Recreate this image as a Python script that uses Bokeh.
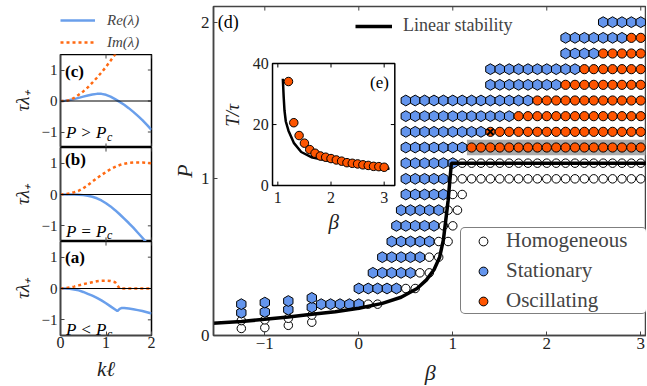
import numpy as np
from bokeh.plotting import figure
from bokeh.layouts import row, column
from bokeh.models import Range1d, LinearAxis, FixedTicker, Legend, LegendItem, Label, Span
from bokeh.embed import file_html
from bokeh.resources import INLINE
from bokeh.core.properties import value

SERIF = "Liberation Serif"
BLUE = "#6495ED"
ORANGE = "#FF5500"
RE_BLUE = "#6A9FEB"
IM_ORANGE = "#FF6A13"
FRAME = "#444444"
TXT = "#222222"

# ---------------- small panels (a), (b), (c) ----------------
k_c = [0.0, 0.1, 0.2, 0.3, 0.4, 0.5, 0.6, 0.7, 0.8, 0.9, 1.0, 1.1, 1.2, 1.3, 1.4, 1.5, 1.6, 1.7, 1.8, 1.9, 2.0]
re_c = [0, 0.01, 0.03, 0.06, 0.1, 0.14, 0.18, 0.21, 0.23, 0.23, 0.2, 0.14, 0.06, -0.03, -0.12, -0.23, -0.35, -0.48, -0.62, -0.77, -0.93]
k_c_im = [0.0, 0.1, 0.2, 0.3, 0.4, 0.5, 0.6, 0.7, 0.8, 0.9, 1.0, 1.1, 1.2, 1.3]
im_c = [0, 0.0, 0.03, 0.1, 0.2, 0.31, 0.44, 0.59, 0.75, 0.92, 1.1, 1.3, 1.5, 1.7]

k_b = [0.0, 0.1, 0.2, 0.3, 0.4, 0.5, 0.6, 0.7, 0.8, 0.9, 1.0, 1.1, 1.2, 1.3, 1.4, 1.5, 1.6, 1.7, 1.8, 1.9, 2.0]
re_b = [0, 0, 0, 0, -0.01, -0.02, -0.04, -0.07, -0.12, -0.19, -0.28, -0.38, -0.5, -0.63, -0.77, -0.91, -1.06, -1.22, -1.38, -1.55, -1.72]
im_b = [0, 0.01, 0.03, 0.07, 0.12, 0.2, 0.3, 0.41, 0.52, 0.62, 0.72, 0.81, 0.88, 0.94, 0.98, 1.01, 1.02, 1.02, 1.02, 1.01, 1.0]

k_a = [0.0, 0.1, 0.2, 0.3, 0.4, 0.5, 0.6, 0.7, 0.8, 0.9, 1.0, 1.1, 1.2, 1.25, 1.3, 1.35, 1.4, 1.5, 1.6, 1.7, 1.8, 1.9, 2.0]
re_a = [0, 0, -0.01, -0.03, -0.06, -0.11, -0.17, -0.23, -0.3, -0.38, -0.47, -0.57, -0.67, -0.72, -0.65, -0.62, -0.62, -0.64, -0.66, -0.69, -0.72, -0.76, -0.8]
im_a = [0, 0.01, 0.03, 0.06, 0.1, 0.14, 0.17, 0.2, 0.23, 0.245, 0.25, 0.24, 0.2, 0.1, 0.0, 0, 0, 0, 0, 0, 0, 0, 0]

k_ticks = [0, 1, 2]
lam_ticks = [-1, 0, 1]
lam_labels = {-1: "\u22121", 0: "0", 1: "1"}
K_RANGE = (0, 2)
LAM_RANGE = (-1.5, 1.5)

# ---------------- main panel (d) ----------------
STEP = 0.1
# rows: (P, first beta, last beta)
stationary_rows = [
    (2.0, 2.6, 3.0), (1.9, 2.2, 2.8), (1.8, 2.2, 2.5), (1.7, 1.4, 2.3), (1.6, 1.4, 2.1),
    (1.5, 0.5, 1.8), (1.4, 0.5, 1.6), (1.3, 0.5, 1.3), (1.2, 0.5, 1.1), (1.1, 0.5, 1.0),
    (1.0, 0.5, 0.9), (0.9, 0.5, 0.9), (0.8, 0.45, 0.85), (0.7, 0.4, 0.8), (0.6, 0.35, 0.75),
    (0.5, 0.25, 0.65), (0.4, 0.15, 0.55), (0.3, 0.0, 0.4), (0.2, -0.4, 0.0),
]
oscillating_rows = [
    (1.9, 2.9, 3.0), (1.8, 2.6, 3.0), (1.7, 2.4, 3.0), (1.6, 2.2, 3.0),
    (1.5, 1.9, 3.0), (1.4, 1.7, 3.0), (1.3, 1.4, 3.0), (1.2, 1.2, 3.0),
]
homogeneous_rows = [
    (1.1, 1.1, 3.0), (1.0, 1.0, 3.0), (0.9, 1.0, 1.1), (0.8, 0.95, 1.05), (0.7, 0.9, 1.0),
    (0.6, 0.85, 0.95), (0.5, 0.75, 0.85), (0.4, 0.65, 0.75), (0.3, 0.5, 0.6), (0.2, 0.1, 0.2),
]
stack_beta = [-1.25, -1.0, -0.75, -0.5]
stack_hom_P = [[0.045, 0.095], [0.05, 0.1], [0.065, 0.11], [0.085, 0.13]]
stack_sta_P = [[0.145, 0.2], [0.15, 0.21], [0.165, 0.22], [0.18, 0.24]]
crossed_beta = [1.4]
crossed_P = [1.3]
band_beta = (1.15, 3.05)
band_P = (1.15, 1.25)

stab_beta = [-1.6, -1.25, -1.0, -0.75, -0.5, -0.25, 0.0, 0.25, 0.45, 0.62, 0.72, 0.8, 0.86, 0.9, 0.95, 0.985, 3.1]
stab_P = [0.076, 0.09, 0.103, 0.118, 0.135, 0.152, 0.174, 0.205, 0.244, 0.30, 0.355, 0.42, 0.50, 0.61, 0.86, 1.1, 1.1]

beta_ticks = [-1, 0, 1, 2, 3]
beta_labels = {-1: "\u22121", 0: "0", 1: "1", 2: "2", 3: "3"}
P_ticks = [0, 1, 2]
BETA_RANGE = (-1.546, 3.061)
P_RANGE = (0, 2.1)

# ---------------- inset (e) ----------------
ins_beta = [1.2, 1.3, 1.4, 1.5, 1.6, 1.7, 1.8, 1.9, 2.0, 2.1, 2.2, 2.3, 2.4, 2.5, 2.6, 2.7, 2.8, 2.9, 3.0]
ins_T = [34.1, 20.6, 16.4, 13.9, 11.8, 10.6, 9.7, 9.3, 8.85, 8.4, 8.0, 7.5, 7.3, 7.1, 6.8, 6.6, 6.3, 6.2, 6.0]
ins_curve_beta = [1.094, 1.11, 1.125, 1.15, 1.2, 1.3, 1.44, 1.63, 2.0, 2.5, 3.1]
ins_curve_T = [35.0, 29.0, 24.6, 21.0, 18.0, 14.0, 11.0, 9.3, 8.0, 6.6, 5.5]
ins_xticks = [1, 2, 3]
ins_yticks = [0, 20, 40]
ins_xrange = (0.9, 3.2)
ins_yrange = (0, 40)


def expand(rows):
    xs, ys = [], []
    for P, b0, b1 in rows:
        n = int(round((b1 - b0) / STEP)) + 1
        for i in range(n):
            xs.append(round(b0 + STEP * i, 3))
            ys.append(P)
    return xs, ys


def style_axis(ax, size="16px", standoff=3):
    ax.axis_line_color = FRAME
    ax.axis_line_width = 1.5
    ax.major_tick_in = 4
    ax.major_tick_out = 0
    ax.major_tick_line_color = FRAME
    ax.major_tick_line_width = 1
    ax.minor_tick_line_color = None
    ax.major_label_text_font = SERIF
    ax.major_label_text_color = TXT
    ax.major_label_text_font_size = size
    ax.major_label_standoff = standoff
    ax.axis_label_text_font = SERIF
    ax.axis_label_text_font_style = "italic"
    ax.axis_label_text_color = TXT
    return ax


def bare_fig(width, height, xr, yr, left=0, top=0, right=0):
    f = figure(width=width, height=height, x_range=xr, y_range=yr,
               x_axis_location=None, y_axis_location=None, toolbar_location=None,
               output_backend="svg", min_border_left=left, min_border_right=right,
               min_border_top=top, min_border_bottom=0)
    f.grid.visible = False
    f.outline_line_color = None
    return f


def small_panel(height, k_re, re, k_im, im, tag, tag_y, rel, rel_y, bottom):
    p = figure(width=168, height=height, x_range=Range1d(*K_RANGE), y_range=Range1d(*LAM_RANGE),
               x_axis_location=None, y_axis_location=None, toolbar_location=None,
               output_backend="svg", min_border_left=55, min_border_right=17,
               min_border_top=0, min_border_bottom=20 if bottom else 0)
    p.grid.visible = False
    p.outline_line_color = "black"
    p.outline_line_width = 1.5
    la = LinearAxis(ticker=FixedTicker(ticks=lam_ticks), major_label_overrides=lam_labels,
                    axis_label="\u03c4\u03bb\u208a")
    style_axis(la, "15px", 3)
    la.axis_label_text_font_size = "19px"
    la.axis_label_standoff = 6
    p.add_layout(la, "left")
    if bottom:
        ba = LinearAxis(ticker=FixedTicker(ticks=k_ticks))
        style_axis(ba, "16px", 1)
        p.add_layout(ba, "below")
    # inward ticks on the remaining sides
    nk, nl = len(k_ticks), len(lam_ticks)
    p.segment(x0=[K_RANGE[1]] * nl, y0=lam_ticks, x1=[K_RANGE[1] - 0.08] * nl, y1=lam_ticks, line_color=FRAME)
    p.segment(x0=k_ticks, y0=[LAM_RANGE[1]] * nk, x1=k_ticks, y1=[LAM_RANGE[1] - 0.13] * nk, line_color=FRAME)
    if not bottom:
        p.segment(x0=k_ticks, y0=[LAM_RANGE[0]] * nk, x1=k_ticks, y1=[LAM_RANGE[0] + 0.13] * nk, line_color=FRAME)
    p.add_layout(Span(location=0, dimension="width", line_color="black", line_width=1))
    r1 = p.line(k_re, re, line_color=RE_BLUE, line_width=2.5)
    r2 = p.line(k_im, im, line_color=IM_ORANGE, line_width=2.5, line_dash="3 3")
    p.add_layout(Label(x=0.1, y=tag_y, text=tag, text_font=SERIF, text_font_style="bold",
                       text_font_size="17px", text_baseline="top", text_color="black"))
    p.add_layout(Label(x=0.12, y=rel_y, text=rel, text_font=SERIF, text_font_style="italic",
                       text_font_size="17px", text_baseline="alphabetic", text_color="black"))
    p.add_layout(Label(x=0.12, y=rel_y - 0.13, x_offset=41, text="c", text_font=SERIF,
                       text_font_style="italic", text_font_size="12px",
                       text_baseline="alphabetic", text_color="black"))
    return p


# legend strip above panel (c); its keys are off-range copies of the panel (c) curves
lf = bare_fig(168, 54, Range1d(10, 11), Range1d(10, 11), left=60, top=10)
r_re = lf.line(k_c, re_c, line_color=RE_BLUE, line_width=2.5)
r_im = lf.line(k_c_im, im_c, line_color=IM_ORANGE, line_width=2.5, line_dash="3 3")
leg0 = Legend(items=[LegendItem(label="Re(\u03bb)", renderers=[r_re]),
                     LegendItem(label="Im(\u03bb)", renderers=[r_im])],
              location="top_left", padding=0, spacing=2, margin=0, label_height=20, glyph_height=20,
              glyph_width=35, label_standoff=12, label_text_font=SERIF,
              label_text_font_style="italic", label_text_font_size="15px",
              border_line_color=None, background_fill_alpha=0)
lf.add_layout(leg0)

pc = small_panel(93, k_c, re_c, k_c_im, im_c, "(c)", 1.25, "P > P", -1.03, False)
pb = small_panel(94, k_b, re_b, k_b, im_b, "(b)", 1.41, "P = P", -1.17, False)
pa = small_panel(114, k_a, re_a, k_a, im_a, "(a)", 1.29, "P < P", -1.31, True)
kf = bare_fig(168, 30, Range1d(*K_RANGE), Range1d(0, 1), left=55, right=17)
kf.add_layout(Label(x=1.0, y=0.56, text="k\u2113", text_font=SERIF, text_font_style="italic",
                    text_font_size="21px", text_align="center", text_baseline="middle", text_color=TXT))

# ---------------- main figure ----------------
xr = Range1d(*BETA_RANGE)
p = figure(width=478, height=357, x_range=xr, y_range=Range1d(*P_RANGE),
           x_axis_location=None, y_axis_location=None, toolbar_location=None,
           output_backend="svg", min_border_left=45, min_border_right=0,
           min_border_top=6, min_border_bottom=22)
p.grid.visible = False
p.outline_line_color = FRAME
p.outline_line_width = 1.5

bx = LinearAxis(ticker=FixedTicker(ticks=beta_ticks), major_label_overrides=beta_labels)
style_axis(bx, "17px", 2)
p.add_layout(bx, "below")
ly = LinearAxis(ticker=FixedTicker(ticks=P_ticks), axis_label="P")
style_axis(ly, "17px", 4)
ly.axis_label_text_font_size = "22px"
ly.axis_label_standoff = 1
p.add_layout(ly, "left")
nb, npt = len(beta_ticks), len(P_ticks)
p.segment(x0=beta_ticks, y0=[P_RANGE[1]] * nb, x1=beta_ticks, y1=[P_RANGE[1] - 0.026] * nb, line_color=FRAME)
p.segment(x0=[BETA_RANGE[1]] * npt, y0=P_ticks, x1=[BETA_RANGE[1] - 0.043] * npt, y1=P_ticks, line_color=FRAME)

bf = bare_fig(478, 28, xr, Range1d(0, 1), left=45)
bf.add_layout(Label(x=0.76, y=0.48, text="\u03b2", text_font=SERIF, text_font_style="italic",
                    text_font_size="22px", text_align="center", text_baseline="middle", text_color=TXT))

p.quad(left=[band_beta[0]], right=[band_beta[1]], bottom=[band_P[0]], top=[band_P[1]],
       fill_color="#AAAAAA", line_color=None)

hx, hy = expand(homogeneous_rows)
for b, Ps in zip(stack_beta, stack_hom_P):
    hx += [b] * len(Ps)
    hy += Ps
sx, sy = expand(stationary_rows)
for b, Ps in zip(stack_beta, stack_sta_P):
    sx += [b] * len(Ps)
    sy += Ps
ox, oy = expand(oscillating_rows)

r_h = p.scatter(hx, hy, marker="circle", size=8.5, fill_color="white", line_color="black", line_width=1)
# circle key for the legend, hidden beneath the first hexagon
r_s = p.scatter(sx[:1], sy[:1], marker="circle", size=8, fill_color=BLUE, line_color="black", line_width=1)
p.scatter(sx, sy, marker="hex", size=10.8, angle=np.pi / 6, fill_color=BLUE, line_color="black", line_width=1)
r_o = p.scatter(ox, oy, marker="circle", size=9.2, fill_color=ORANGE, line_color="black", line_width=1)
p.scatter(crossed_beta, crossed_P, marker="x", size=9, line_color="black", line_width=2)

r_stab = p.line(stab_beta, stab_P, line_color="black", line_width=3.5)

leg1 = Legend(items=[LegendItem(label="Homogeneous", renderers=[r_h]),
                     LegendItem(label="Stationary", renderers=[r_s]),
                     LegendItem(label="Oscillating", renderers=[r_o])],
              location=(247, 21), padding=0, spacing=5, margin=0, label_height=22, glyph_height=22,
              glyph_width=44, label_standoff=1, label_width=140, label_text_font=SERIF,
              label_text_font_size="21px", border_line_color="black", border_line_width=1,
              background_fill_color="white", background_fill_alpha=1)
try:
    leg1.border_radius = 5
except Exception:
    pass
p.add_layout(leg1)
leg2 = Legend(items=[LegendItem(label="Linear stability", renderers=[r_stab])],
              location=(142, 299), padding=0, margin=0, label_height=18, glyph_height=18,
              glyph_width=37, label_standoff=11, label_text_font=SERIF,
              label_text_font_size="18px", border_line_color=None, background_fill_alpha=0)
p.add_layout(leg2)

p.add_layout(Label(x=-1.5, y=2.065, text="(d)", text_font=SERIF, text_font_size="18px",
                   text_baseline="top", text_color="black"))

# ---------------- inset (e) via sub-coordinates ----------------
ins = p.subplot(x_source=Range1d(*ins_xrange), y_source=Range1d(*ins_yrange),
                x_target=Range1d(-0.918, 0.383), y_target=Range1d(0.957, 1.736))
ins.quad(left=[ins_xrange[0]], right=[ins_xrange[1]], bottom=[ins_yrange[0]], top=[ins_yrange[1]],
         fill_color="white", line_color="black", line_width=1.5)
n = len(ins_xticks)
ins.segment(x0=ins_xticks, y0=[ins_yrange[0]] * n, x1=ins_xticks, y1=[ins_yrange[0] + 1.3] * n, line_color="black")
ins.segment(x0=ins_xticks, y0=[ins_yrange[1]] * n, x1=ins_xticks, y1=[ins_yrange[1] - 1.3] * n, line_color="black")
m = len(ins_yticks)
ins.segment(x0=[ins_xrange[0]] * m, y0=ins_yticks, x1=[ins_xrange[0] + 0.075] * m, y1=ins_yticks, line_color="black")
ins.segment(x0=[ins_xrange[1]] * m, y0=ins_yticks, x1=[ins_xrange[1] - 0.075] * m, y1=ins_yticks, line_color="black")
ins.text(x=ins_xticks, y=[-2.2] * n, text=[str(t) for t in ins_xticks], text_align="center",
         text_baseline="top", text_font=value(SERIF), text_font_size="16px", text_color=TXT)
ins.text(x=[0.83] * m, y=ins_yticks, text=[str(t) for t in ins_yticks], text_align="right",
         text_baseline="middle", text_font=value(SERIF), text_font_size="16px", text_color=TXT)
ins.text(x=[0.14], y=[23], text=["T/\u03c4"], angle=np.pi / 2, text_align="center",
         text_baseline="middle", text_font=value(SERIF), text_font_style="italic",
         text_font_size="19px", text_color=TXT)
ins.text(x=[2.05], y=[-12], text=["\u03b2"], text_align="center", text_baseline="middle",
         text_font=value(SERIF), text_font_style="italic", text_font_size="21px", text_color=TXT)
ins.line(ins_curve_beta, ins_curve_T, line_color="black", line_width=2.5)
ins.scatter(ins_beta, ins_T, marker="circle", size=8.5, fill_color=ORANGE, line_color="black", line_width=1)
ins.text(x=[3.09], y=[37], text=["(e)"], text_align="right", text_baseline="top",
         text_font=value(SERIF), text_font_size="17px", text_color="black")

layout = row(column(lf, pc, pb, pa, kf), column(p, bf))
open("out.html", "w").write(file_html(layout, INLINE))
